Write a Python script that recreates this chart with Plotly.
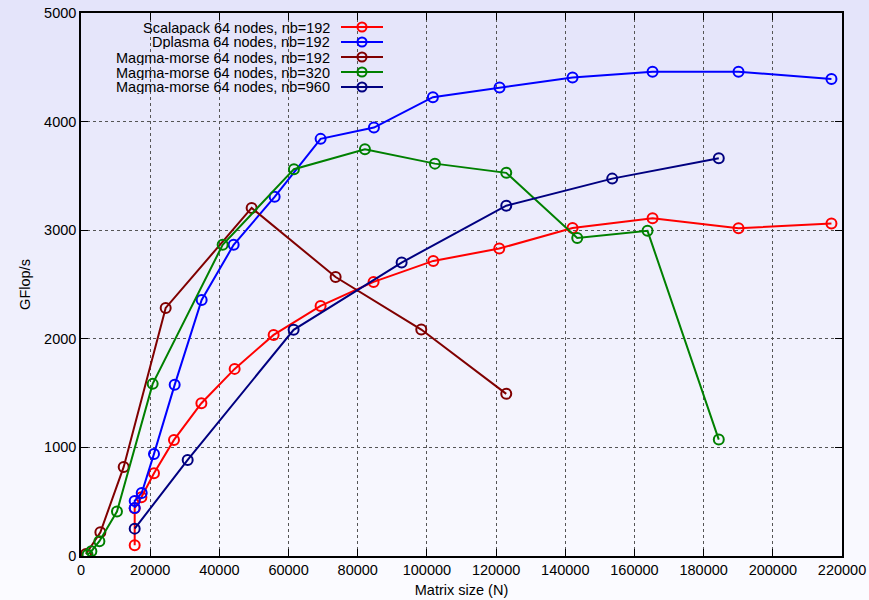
import plotly.graph_objects as go

# 数据：从参考图读出的 (N, GFlop/s)
scal_n = [15520, 15520, 17460, 21100, 26880, 34800, 44420, 55690, 69270, 84580,
          101840, 120920, 142100, 165230, 190080, 216950]
scal_g = [99, 440, 541, 762, 1069, 1407, 1723, 2036, 2303, 2524,
          2717, 2831, 3021, 3110, 3018, 3061]

dpl_n = [15520, 15520, 17550, 21100, 27080, 34880, 44130, 55980, 69270, 84680,
         101730, 121000, 142100, 165230, 190080, 216950]
dpl_g = [443, 507, 580, 940, 1576, 2358, 2865, 3307, 3841, 3945,
         4225, 4313, 4407, 4460, 4460, 4393]

m192_n = [1445, 5600, 12340, 24480, 49330, 73610, 98370, 122940]
m192_g = [19, 219, 820, 2284, 3205, 2569, 2085, 1493]

m320_n = [1900, 3000, 5320, 10400, 20720, 40950, 61560, 82080, 102310, 122940,
          143460, 163780, 184380]
m320_g = [12, 44, 136, 409, 1585, 2865, 3562, 3746, 3613, 3528, 2929, 2994, 1072]

m960_n = [15520, 30840, 61470, 92690, 122940, 153570, 184380]
m960_g = [252, 885, 2083, 2702, 3226, 3475, 3663]

series = [
    ("Scalapack 64 nodes, nb=192", scal_n, scal_g, "#ff0000"),
    ("Dplasma 64 nodes, nb=192", dpl_n, dpl_g, "#0000ff"),
    ("Magma-morse 64 nodes, nb=192", m192_n, m192_g, "#800000"),
    ("Magma-morse 64 nodes, nb=320", m320_n, m320_g, "#008000"),
    ("Magma-morse 64 nodes, nb=960", m960_n, m960_g, "#000080"),
]

W, H = 869, 600
ML, MR, MT, MB = 81, 27, 13, 44
PW, PH = W - ML - MR, H - MT - MB
FONT = "Liberation Sans, Arial, Helvetica, sans-serif"
FS = 14.5

fig = go.Figure()
for name, xs, ys, col in series:
    fig.add_trace(go.Scatter(
        x=xs, y=ys, mode="lines+markers", name=name, showlegend=False,
        line=dict(color=col, width=2),
        marker=dict(symbol="circle-open", size=10, color=col, line=dict(width=2, color=col)),
    ))

shapes = []
# 背景竖直渐变（上淡紫 -> 下近白）
nb = 60
for i in range(nb):
    t = i / (nb - 1)
    r = round(228 + (251 - 228) * t)
    g = round(228 + (251 - 228) * t)
    b = round(250 + (255 - 250) * t)
    top_px = H * i / nb
    bot_px = H * (i + 1) / nb + 1
    y1 = 1 - (top_px - MT) / PH
    y0 = 1 - (bot_px - MT) / PH
    shapes.append(dict(type="rect", xref="paper", yref="paper", x0=-0.2, x1=1.2,
                       y0=y0, y1=y1, fillcolor=f"rgb({r},{g},{b})",
                       line=dict(width=0), layer="below"))

# 图例：文字右对齐，样例线在右侧（gnuplot 风格）
annotations = []
rows_y = [27, 42, 57, 72, 87]
text_right = 331
for (name, xs, ys, col), py in zip(series, rows_y):
    yp = 1 - (py - MT) / PH
    annotations.append(dict(text=name, xref="paper", yref="paper",
                            x=(text_right - ML) / PW, y=yp, xanchor="right", yanchor="middle",
                            height=15, borderpad=0, valign="middle",
                            showarrow=False, font=dict(size=FS, color="#000000", family=FONT)))
    shapes.append(dict(type="line", xref="paper", yref="paper",
                       x0=(341 - ML) / PW, x1=(383 - ML) / PW, y0=yp, y1=yp,
                       line=dict(color=col, width=2)))
    shapes.append(dict(type="circle", xref="paper", yref="paper",
                       xsizemode="pixel", ysizemode="pixel",
                       xanchor=(362 - ML) / PW, yanchor=yp,
                       x0=-4.5, x1=4.5, y0=-4.5, y1=4.5,
                       line=dict(color=col, width=2)))

axis_common = dict(
    showline=True, linecolor="#000000", linewidth=1.5, mirror="allticks",
    ticks="inside", ticklen=7, tickcolor="#000000", tickwidth=1,
    showgrid=True, gridcolor="#555555", griddash="dot", gridwidth=1,
    zeroline=False, automargin=False,
    tickfont=dict(size=FS, color="#000000", family=FONT),
)

fig.update_layout(
    width=W, height=H,
    margin=dict(l=ML, r=MR, t=MT, b=MB),
    paper_bgcolor="#ffffff",
    plot_bgcolor="rgba(0,0,0,0)",
    font=dict(family=FONT, size=FS, color="#000000"),
    shapes=shapes,
    annotations=annotations,
    xaxis=dict(range=[0, 220000], dtick=20000, tick0=0, tickformat="d",
               title=dict(text="Matrix size (N)", standoff=8, font=dict(size=FS)),
               **axis_common),
    yaxis=dict(range=[0, 5000], dtick=1000, tick0=0, tickformat="d",
               title=dict(text="GFlop/s", standoff=10, font=dict(size=FS)),
               **axis_common),
)

# 页面默认 body 有 8px 边距，去掉它让图占满窗口
fig.write_html("out.html", config={"displayModeBar": False},
               post_script="document.body.style.margin='0';")
